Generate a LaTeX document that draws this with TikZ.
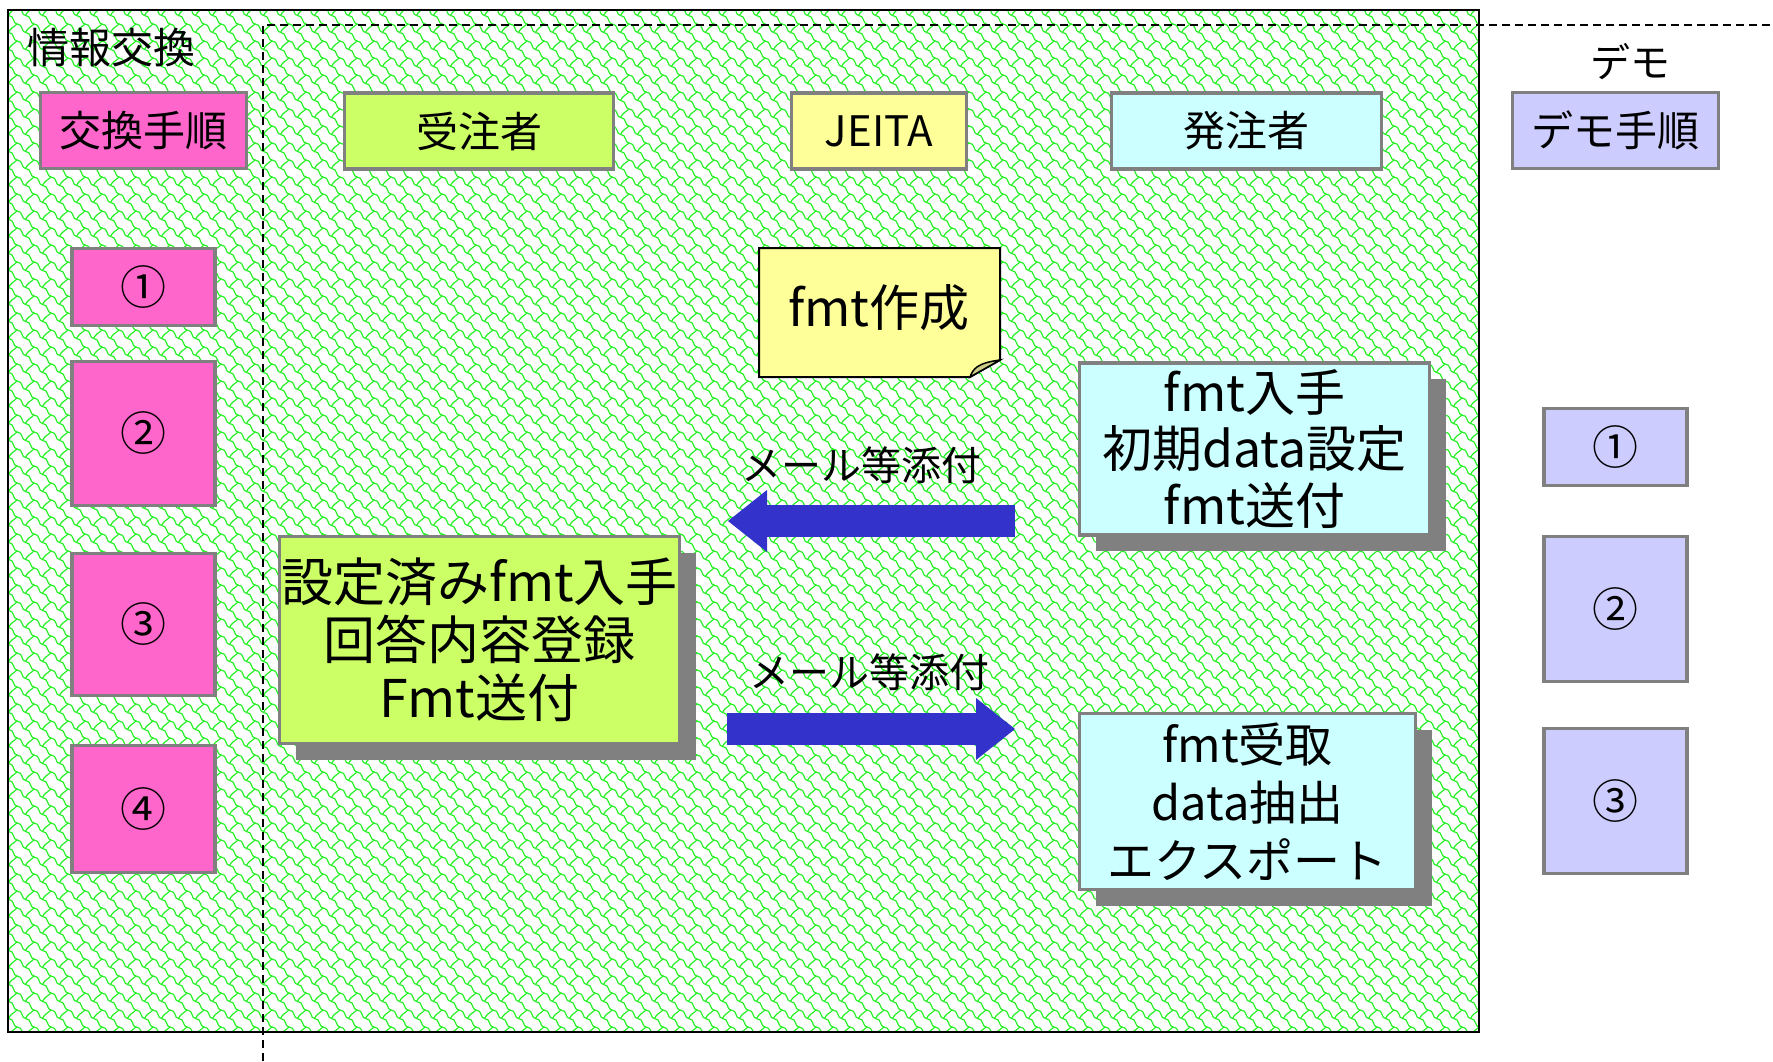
\documentclass[tikz,border=0pt]{standalone}
\usepackage{fontspec}
\setmainfont{Noto Sans CJK JP}
\usetikzlibrary{patterns,shadows,arrows.meta}
\definecolor{magbox}{HTML}{FF66CC}
\definecolor{limebox}{HTML}{CCFF66}
\definecolor{yelbox}{HTML}{FFFF99}
\definecolor{cyanbox}{HTML}{CCFFFF}
\definecolor{lavbox}{HTML}{CCCCFF}
\definecolor{bordergray}{HTML}{808080}
\definecolor{arrowblue}{HTML}{3333CC}
\definecolor{patgreen}{HTML}{22F022}
\definecolor{foldcol}{HTML}{CCCC88}
\pgfdeclarepatternformonly{shingle}{\pgfpoint{-1pt}{-1pt}}{\pgfpoint{18pt}{18pt}}{\pgfpoint{17pt}{17pt}}{%
  \pgfsetlinewidth{1.15pt}%
  \pgfpathmoveto{\pgfpoint{0pt}{17pt}}%
  \pgfpathcurveto{\pgfpoint{6.5pt}{17pt}}{\pgfpoint{4pt}{8.5pt}}{\pgfpoint{8.5pt}{8.5pt}}%
  \pgfpathcurveto{\pgfpoint{15pt}{8.5pt}}{\pgfpoint{12.5pt}{0pt}}{\pgfpoint{17pt}{0pt}}%
  \pgfpathmoveto{\pgfpoint{8.5pt}{8.5pt}}%
  \pgfpathcurveto{\pgfpoint{10.5pt}{13pt}}{\pgfpoint{14pt}{14pt}}{\pgfpoint{17pt}{17pt}}%
  \pgfusepath{stroke}%
}
\begin{document}
\begin{tikzpicture}[x=1pt,y=-1pt,
  hdr/.style={draw=bordergray, line width=3.5pt, inner sep=0pt, font=\fontsize{42}{50}\selectfont},
  numbox/.style={draw=bordergray, line width=3.5pt, inner sep=0pt, minimum width=143pt, font=\fontsize{46}{50}\selectfont},
  bigbox/.style={draw=bordergray, line width=3.5pt, inner sep=0pt, align=center,
    drop shadow={shadow xshift=16pt, shadow yshift=-16pt, fill=bordergray, opacity=1}},
  lbl/.style={inner sep=0pt, font=\fontsize{40}{46}\selectfont},
  dashline/.style={line width=1.8pt, dash pattern=on 8pt off 5pt},
  bigarrow/.style={line width=32pt, draw=arrowblue, -{Triangle[length=39pt,width=62pt,line width=0pt]}}
]
\useasboundingbox (0,0) rectangle (1773,1061);
\fill[white] (0,0) rectangle (1773,1061);
\fill[pattern=shingle, pattern color=patgreen] (8,10) rectangle (1479,1032);
\draw[line width=1.5pt] (8,10) rectangle (1479,1032);
\draw[dashline] (263,1061) -- (263,25) -- (1773,25);

% titles
\node[anchor=west, inner sep=0pt, font=\fontsize{42}{50}\selectfont] (title) at (27,48) {情報交換};
\node[lbl] (demo) at (1630,62) {デモ};

% header boxes
\node[hdr, fill=magbox, minimum width=206pt, minimum height=76pt] (kokan) at (143.5,130.5) {交換手順};
\node[hdr, fill=limebox, minimum width=269pt, minimum height=76pt] (juchu) at (479,131) {受注者};
\node[hdr, fill=yelbox, minimum width=175pt, minimum height=76pt] (jeita) at (879,131) {JEITA};
\node[hdr, fill=cyanbox, minimum width=270pt, minimum height=76pt] (hatchu) at (1246.5,131) {発注者};
\node[hdr, fill=lavbox, minimum width=206pt, minimum height=76pt] (demoproc) at (1615.5,130.5) {デモ手順};

% left steps
\node[numbox, fill=magbox, minimum height=77pt] (k1) at (143.5,287) {①};
\node[numbox, fill=magbox, minimum height=144pt] (k2) at (143.5,433.5) {②};
\node[numbox, fill=magbox, minimum height=142pt] (k3) at (143.5,624.5) {③};
\node[numbox, fill=magbox, minimum height=127pt] (k4) at (143.5,809) {④};

% right steps
\node[numbox, fill=lavbox, minimum height=77pt] (d1) at (1615.5,447) {①};
\node[numbox, fill=lavbox, minimum height=145pt] (d2) at (1615.5,609) {②};
\node[numbox, fill=lavbox, minimum height=145pt] (d3) at (1615.5,801) {③};

% note fmt作成
\draw[line width=2pt, fill=yelbox] (759,248) -- (1000,248) -- (1000,360) -- (970,377) -- (759,377) -- cycle;
\draw[line width=1.5pt, fill=foldcol] (1000,360) -- (970,377) .. controls (973,369) and (977,363) .. (1000,360) -- cycle;
\node[inner sep=0pt, font=\fontsize{50}{56}\selectfont] (fmtsakusei) at (879,308) {fmt作成};

% big boxes
\node[bigbox, fill=limebox, minimum width=400pt, minimum height=207pt, font=\fontsize{52}{58}\selectfont] (order) at (479.5,640) {設定済みfmt入手\\回答内容登録\\Fmt送付};
\node[bigbox, fill=cyanbox, minimum width=350pt, minimum height=172pt, font=\fontsize{50}{56.5}\selectfont] (send) at (1254.5,449) {fmt入手\\初期data設定\\fmt送付};
\node[bigbox, fill=cyanbox, minimum width=336pt, minimum height=176pt, font=\fontsize{47}{58}\selectfont] (recv) at (1247.5,801.5) {fmt受取\\data抽出\\エクスポート};

% arrows
\coordinate (a1s) at (1015,521);
\coordinate (a1e) at (728,521);
\coordinate (a2s) at (727,729);
\coordinate (a2e) at (1015,729);
\draw[bigarrow] (a1s) -- (a1e);
\draw[bigarrow] (a2s) -- (a2e);
\node[lbl] (mail1) at (861,465) {メール等添付};
\node[lbl] (mail2) at (869,672) {メール等添付};
\end{tikzpicture}
\end{document}
